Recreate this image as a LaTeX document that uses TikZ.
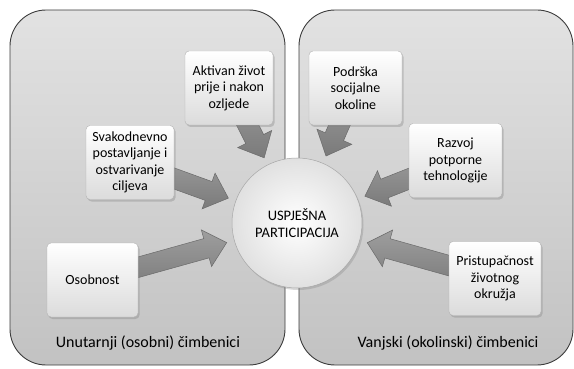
\documentclass[tikz,border=0pt]{standalone}
\usepackage{fontspec}
\setmainfont{Carlito}
\usepackage{tikz}
\usetikzlibrary{positioning, arrows.meta, calc, shadows}
\pgfdeclarelayer{panels}
\pgfdeclarelayer{arrows}
\pgfsetlayers{panels,arrows,main}
\definecolor{panelborder}{HTML}{3C3C3C}
\definecolor{paneltop}{HTML}{E2E2E2}
\definecolor{panelbottom}{HTML}{C2C2C2}
\definecolor{arrowfill}{HTML}{8E8E8E}
\definecolor{arrowedge}{HTML}{6A6A6A}
\tikzset{
  panelbox/.style={
    rectangle,
    draw=panelborder,
    line width=0.9pt,
    rounded corners=36pt,
    top color=paneltop,
    bottom color=panelbottom,
    inner sep=0pt
  },
  factorbox/.style={
    rectangle,
    draw=black!30,
    line width=0.4pt,
    rounded corners=4pt,
    top color=white,
    bottom color=black!14,
    minimum width=88pt,
    minimum height=74pt,
    align=center,
    inner sep=3pt,
    font=\fontsize{14pt}{16.5pt}\selectfont,
    drop shadow={opacity=0.35, shadow xshift=1.5pt, shadow yshift=-2pt}
  },
  goalnode/.style={
    circle,
    draw=black!35,
    line width=0.5pt,
    inner color=white,
    outer color=black!12,
    minimum size=130pt,
    align=center,
    font=\fontsize{14.5pt}{17pt}\selectfont,
    drop shadow={opacity=0.3, shadow xshift=1.5pt, shadow yshift=-2pt}
  },
  panellabel/.style={
    font=\fontsize{16pt}{19pt}\selectfont,
    inner sep=0pt
  },
  factorarrow/.style={
    draw=arrowedge,
    line width=0.5pt,
    top color=black!38,
    bottom color=black!52,
    line join=miter
  }
}
\newcommand{\blockarrow}[2]{%
  \begin{pgfonlayer}{arrows}
    \coordinate (bs) at (#1.center);
    \coordinate (bt) at ($(#2.center)!73pt!(#1.center)$);
    \coordinate (bh) at ($(bt)!21pt!(bs)$);
    \path[factorarrow] ($(bs)!10pt!90:(bt)$) -- ($(bh)!10pt!90:(bt)$)
      -- ($(bh)!19pt!90:(bt)$) -- (bt) -- ($(bh)!19pt!-90:(bt)$)
      -- ($(bh)!10pt!-90:(bt)$) -- ($(bs)!10pt!-90:(bt)$) -- cycle;
  \end{pgfonlayer}}
\begin{document}
\begin{tikzpicture}[x=1pt, y=-1pt]
  \useasboundingbox (0,0) rectangle (574,369);
  \begin{pgfonlayer}{panels}
    \node[panelbox, minimum width=275pt, minimum height=355pt] (inner) at (147.5,187.5) {};
    \node[panelbox, minimum width=274pt, minimum height=355pt] (outer) at (436,187.5) {};
  \end{pgfonlayer}
  \node[panellabel] (innerlabel) at (148,343) {Unutarnji (osobni) čimbenici};
  \node[panellabel] (outerlabel) at (448,343) {Vanjski (okolinski) čimbenici};

  \node[goalnode] (goal) at (297,223) {USPJEŠNA\\PARTICIPACIJA};

  \node[factorbox] (aktiv) at (229,88) {Aktivan život\\prije i nakon\\ozljede};
  \node[factorbox] (svako) at (130,162.5) {Svakodnevno\\postavljanje i\\ostvarivanje\\ciljeva};
  \node[factorbox, minimum width=91pt] (osob) at (92.5,280) {Osobnost};
  \node[factorbox, minimum width=93pt] (podrska) at (355.5,88) {Podrška\\socijalne\\okoline};
  \node[factorbox, minimum width=93pt] (razvoj) at (455.5,160.5) {Razvoj\\potporne\\tehnologije};
  \node[factorbox, minimum width=92pt] (pristup) at (495,278.5) {Pristupačnost\\životnog\\okružja};

  \blockarrow{aktiv}{goal}
  \blockarrow{svako}{goal}
  \blockarrow{osob}{goal}
  \blockarrow{podrska}{goal}
  \blockarrow{razvoj}{goal}
  \blockarrow{pristup}{goal}
\end{tikzpicture}
\end{document}
